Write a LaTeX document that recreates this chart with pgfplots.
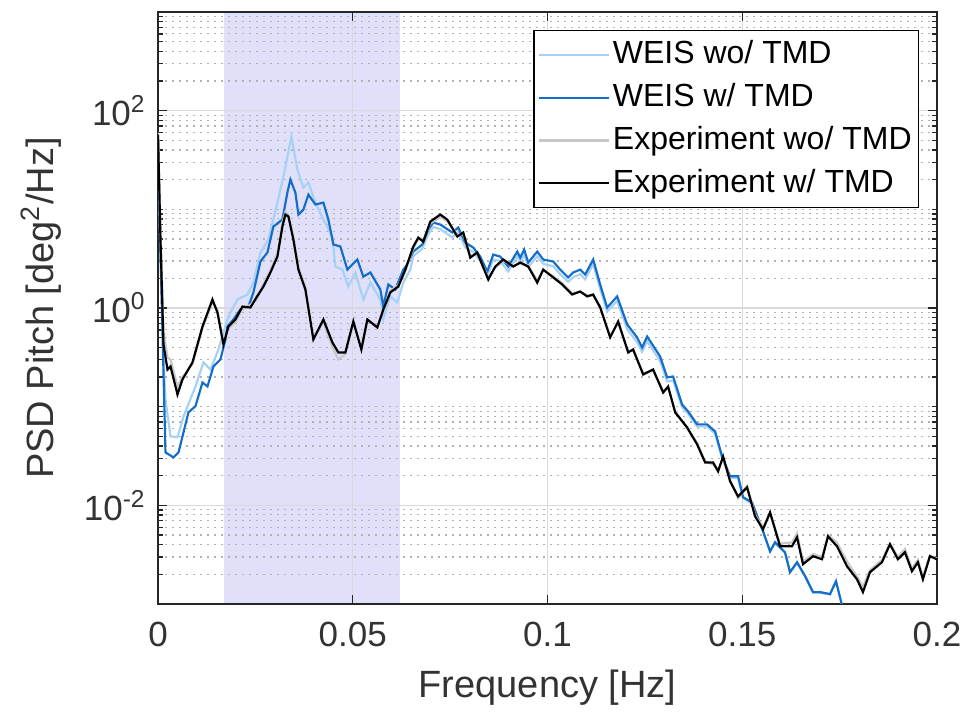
\documentclass[border=0pt]{standalone}
\usepackage{fontspec}
\setmainfont{Liberation Sans}
\usepackage{pgfplots}
\pgfplotsset{compat=1.18}

\definecolor{weislight}{rgb}{0.65,0.82,0.96}
\definecolor{weisdark}{rgb}{0.08,0.43,0.78}
\definecolor{expgray}{rgb}{0.78,0.78,0.78}
\definecolor{band}{rgb}{0.88,0.88,0.985}

\begin{document}
\begin{tikzpicture}
\begin{axis}[
    name=ax,
    set layers=standard,
    scale only axis,
    width=233.7pt, height=177.6pt,
    xmin=0, xmax=0.2,
    ymode=log, ymin=1e-3, ymax=1e3,
    xtick={0,0.05,0.1,0.15,0.2},
    xticklabels={0,0.05,0.1,0.15,0.2},
    scaled x ticks=false,
    ytick={1e-2,1,1e2},
    yticklabels={10\textsuperscript{-2},10\textsuperscript{0},10\textsuperscript{2}},
    minor ytick={2e-3,3e-3,4e-3,5e-3,6e-3,7e-3,8e-3,9e-3,
                 2e-2,3e-2,4e-2,5e-2,6e-2,7e-2,8e-2,9e-2,0.1,
                 0.2,0.3,0.4,0.5,0.6,0.7,0.8,0.9,
                 2,3,4,5,6,7,8,9,10,
                 20,30,40,50,60,70,80,90,
                 200,300,400,500,600,700,800,900},
    tick align=inside,
    major tick length=2.7pt,
    minor tick length=1.6pt,
    tick style={black!85, line width=0.4pt},
    axis line style={black!85, line width=0.5pt},
    ymajorgrids, yminorgrids, xmajorgrids,
    major grid style={black!15, line width=0.35pt},
    minor grid style={black!30, line width=0.35pt, dash pattern=on 0.6pt off 1.5pt},
    ticklabel style={font=\fontsize{10.5}{12}\selectfont, text=black!80},
    xticklabel style={yshift=-2pt},
    label style={font=\fontsize{11.4}{13}\selectfont, text=black!80},
    xlabel={Frequency [Hz]},
    ylabel={PSD Pitch [deg\textsuperscript{2}/Hz]},
    legend style={at={(1,1)}, anchor=north east, xshift=-5.4pt, yshift=-5.4pt,
        font=\fontsize{9.6}{11}\selectfont, draw=black, line width=0.4pt,
        fill=white, inner xsep=1pt, inner ysep=2pt, row sep=2.4pt,
        nodes={inner sep=1pt}},
    legend cell align=left,
    legend image code/.code={\draw[#1] (0pt,0pt) -- (21pt,0pt);},
    every axis plot/.append style={line width=0.65pt},
]
% shaded band
\addplot[draw=none, fill=band, on layer=axis background, forget plot]
    coordinates {(0.01706,1e-3) (0.0622,1e-3) (0.0622,1e3) (0.01706,1e3)};

% WEIS wo/ TMD
\addplot[weislight] coordinates {
(0,50.9) (0.00064,3.10) (0.00141,0.301) (0.00192,0.118) (0.00321,0.0500)
(0.00500,0.0489) (0.00654,0.0796) (0.00962,0.160) (0.01167,0.281) (0.01347,0.238)
(0.01552,0.380) (0.01783,0.765) (0.01860,0.900) (0.02040,1.22) (0.02296,1.37)
(0.02450,1.81) (0.02630,3.65) (0.02835,4.94) (0.03066,11.7) (0.03220,21.5)
(0.03425,54.5) (0.03579,25.3) (0.03733,16.6) (0.03861,18.7) (0.04041,11.7)
(0.04246,7.87) (0.04477,5.30) (0.04554,2.63) (0.04734,2.45) (0.04887,1.65)
(0.05067,2.29) (0.05272,1.22) (0.05452,1.81) (0.05708,1.22) (0.05785,0.765)
(0.05965,1.31) (0.06144,1.14) (0.06298,1.81) (0.06478,2.45) (0.06555,3.35)
(0.06786,4.0) (0.06940,5.6) (0.07068,6.6) (0.07248,6.3) (0.07555,5.2)
(0.07709,5.9) (0.07889,4.1) (0.08094,3.7) (0.08273,3.0) (0.08453,2.1)
(0.08607,3.1) (0.08787,3.0) (0.08992,2.35) (0.09223,3.35) (0.09300,2.9)
(0.09402,3.5) (0.09505,2.6) (0.09736,3.35) (0.09890,2.8) (0.10147,2.65)
(0.10326,2.2) (0.10531,1.85) (0.10659,2.05) (0.10839,2.2) (0.10967,1.95)
(0.11173,2.8) (0.11352,1.55) (0.11532,0.92) (0.11788,1.18) (0.12045,0.61)
(0.12301,0.45) (0.12429,0.36) (0.12558,0.46) (0.12891,0.29) (0.13071,0.18)
(0.13225,0.185) (0.13456,0.098) (0.13610,0.085) (0.13841,0.063) (0.14097,0.063)
(0.14303,0.053) (0.14482,0.030) (0.14688,0.019) (0.14893,0.019) (0.15021,0.0118)
(0.15252,0.0104) (0.15534,0.0054) (0.15714,0.0034) (0.15842,0.0042) (0.16098,0.0033)
(0.16227,0.0021) (0.16406,0.0026) (0.16611,0.0019) (0.16817,0.0013) (0.16996,0.0013)
(0.17253,0.00125) (0.17407,0.0017) (0.17561,0.00097)
};
\addlegendentry{WEIS wo/ TMD}

% WEIS w/ TMD
\addplot[weisdark] coordinates {
(0,50.9) (0.00064,3.91) (0.00141,0.222) (0.00192,0.0344) (0.00398,0.0306)
(0.00526,0.0344) (0.00782,0.0875) (0.00962,0.101) (0.01142,0.176) (0.01270,0.160)
(0.01424,0.256) (0.01603,0.301) (0.01732,0.480) (0.01783,0.650) (0.01937,0.765)
(0.02116,0.966) (0.02322,1.035) (0.02450,1.44) (0.02630,2.96) (0.02809,3.65)
(0.02963,6.69) (0.03194,7.87) (0.03322,14.8) (0.03399,20.0) (0.03527,14.8)
(0.03605,8.85) (0.03733,9.94) (0.03861,14.1) (0.04041,11.2) (0.04246,11.7)
(0.04374,7.87) (0.04503,4.40) (0.04682,4.20) (0.04862,2.45) (0.05118,3.10)
(0.05272,2.08) (0.05452,2.29) (0.05708,1.54) (0.05785,1.035) (0.05914,1.73)
(0.06093,1.54) (0.06298,2.45) (0.06401,2.76) (0.06555,3.73) (0.06786,4.40)
(0.06940,6.24) (0.07068,7.34) (0.07248,7.01) (0.07555,5.82) (0.07709,6.53)
(0.07889,4.60) (0.08094,4.10) (0.08273,3.32) (0.08453,2.34) (0.08607,3.48)
(0.08787,3.32) (0.08992,2.63) (0.09223,3.73) (0.09300,3.24) (0.09402,3.91)
(0.09505,2.89) (0.09736,3.73) (0.09890,3.10) (0.10147,2.96) (0.10326,2.45)
(0.10531,2.04) (0.10659,2.29) (0.10839,2.45) (0.10967,2.18) (0.11173,3.10)
(0.11352,1.73) (0.11532,1.01) (0.11788,1.31) (0.12045,0.681) (0.12301,0.503)
(0.12429,0.398) (0.12558,0.514) (0.12891,0.323) (0.13071,0.198) (0.13225,0.202)
(0.13456,0.105) (0.13610,0.0895) (0.13841,0.0661) (0.14097,0.0661) (0.14303,0.0561)
(0.14482,0.0313) (0.14688,0.0197) (0.14893,0.0197) (0.15021,0.0121) (0.15252,0.0107)
(0.15534,0.00546) (0.15714,0.00342) (0.15842,0.00422) (0.16098,0.00334) (0.16227,0.00210)
(0.16406,0.00265) (0.16611,0.00193) (0.16817,0.00132) (0.16996,0.00132) (0.17253,0.00126)
(0.17407,0.00170) (0.17561,0.00097)
};
\addlegendentry{WEIS w/ TMD}

% Experiment wo/ TMD
\addplot[expgray] coordinates {
(0,60) (0.00064,6.0) (0.00141,0.6) (0.00244,0.315) (0.00321,0.30)
(0.00500,0.16) (0.00629,0.20) (0.00885,0.27) (0.01142,0.62) (0.01398,1.15)
(0.01526,0.95) (0.01680,0.45) (0.01809,0.62) (0.01988,0.72) (0.02168,0.98)
(0.02373,1.08) (0.02527,1.20) (0.02707,1.72) (0.02886,2.4) (0.03066,3.6)
(0.03194,7.2) (0.03271,9.4) (0.03348,8.8) (0.03476,5.2) (0.03605,2.6)
(0.03784,1.6) (0.03989,0.50) (0.04246,0.72) (0.04477,0.40) (0.04631,0.30)
(0.04810,0.34) (0.05015,0.70) (0.05221,0.40) (0.05375,0.74) (0.05631,0.66)
(0.05785,0.93) (0.05965,1.50) (0.06170,1.70) (0.06350,2.35) (0.06555,4.0)
(0.06683,5.0) (0.06811,4.9) (0.06991,7.2) (0.07248,8.3) (0.07427,7.6)
(0.07684,5.5) (0.07838,5.6) (0.08017,3.4) (0.08197,3.5) (0.08479,2.05)
(0.08658,2.55) (0.08864,3.0) (0.09120,2.7) (0.09300,2.8) (0.09505,2.7)
(0.09736,1.9) (0.09890,2.4) (0.10147,2.1) (0.10378,1.78) (0.10634,1.42)
(0.10839,1.45) (0.11019,1.35) (0.11173,1.33) (0.11352,1.05) (0.11609,0.52)
(0.11814,0.70) (0.12071,0.37) (0.12199,0.37) (0.12456,0.22) (0.12712,0.23)
(0.12969,0.145) (0.13097,0.155) (0.13277,0.091) (0.13584,0.060) (0.13841,0.043)
(0.14046,0.028) (0.14251,0.026) (0.14380,0.023) (0.14508,0.030) (0.14688,0.018)
(0.14893,0.0118) (0.15124,0.0158) (0.15329,0.0080) (0.15534,0.0060) (0.15714,0.0082)
(0.15970,0.0041) (0.16278,0.0042) (0.16406,0.0052) (0.16560,0.0027) (0.16817,0.0032)
(0.17048,0.0030) (0.17202,0.0050) (0.17432,0.0042) (0.17689,0.0027) (0.17946,0.0019)
(0.18099,0.0015) (0.18279,0.0022) (0.18587,0.0028) (0.18792,0.0041) (0.18997,0.0030)
(0.19177,0.0036) (0.19356,0.0023) (0.19510,0.0028) (0.19638,0.0019) (0.19818,0.0031)
(0.19997,0.0029)
};
\addlegendentry{Experiment wo/ TMD}

% Experiment w/ TMD
\addplot[black] coordinates {
(0,57.1) (0.00064,4.94) (0.00141,0.427) (0.00244,0.238) (0.00321,0.256)
(0.00500,0.133) (0.00629,0.189) (0.00885,0.281) (0.01142,0.650) (0.01398,1.22)
(0.01526,0.900) (0.01680,0.427) (0.01809,0.650) (0.01988,0.765) (0.02168,1.035)
(0.02373,1.01) (0.02527,1.28) (0.02707,1.65) (0.02886,2.29) (0.03066,3.32)
(0.03194,6.69) (0.03271,8.85) (0.03348,8.45) (0.03476,4.94) (0.03605,2.45)
(0.03784,1.54) (0.03989,0.480) (0.04246,0.765) (0.04477,0.448) (0.04631,0.354)
(0.04810,0.354) (0.05015,0.730) (0.05221,0.380) (0.05375,0.765) (0.05631,0.635)
(0.05785,0.966) (0.05965,1.44) (0.06170,1.65) (0.06350,2.45) (0.06555,4.20)
(0.06683,5.17) (0.06811,4.71) (0.06991,7.52) (0.07248,8.85) (0.07427,7.87)
(0.07684,5.30) (0.07838,5.82) (0.08017,3.24) (0.08197,3.65) (0.08479,1.94)
(0.08658,2.63) (0.08864,3.10) (0.09120,2.63) (0.09300,2.89) (0.09505,2.63)
(0.09736,1.81) (0.09890,2.45) (0.10147,2.04) (0.10378,1.73) (0.10634,1.37)
(0.10839,1.47) (0.11019,1.31) (0.11173,1.37) (0.11352,1.01) (0.11609,0.503)
(0.11814,0.730) (0.12071,0.354) (0.12199,0.380) (0.12456,0.212) (0.12712,0.238)
(0.12969,0.139) (0.13097,0.160) (0.13277,0.0875) (0.13584,0.0617) (0.13841,0.0415)
(0.14046,0.0272) (0.14251,0.0272) (0.14380,0.0221) (0.14508,0.0313) (0.14688,0.0175)
(0.14893,0.0123) (0.15124,0.0152) (0.15329,0.00774) (0.15534,0.00571) (0.15714,0.00849)
(0.15970,0.00385) (0.16278,0.00385) (0.16406,0.00474) (0.16560,0.00253) (0.16817,0.00305)
(0.17048,0.00284) (0.17202,0.00485) (0.17432,0.00385) (0.17689,0.00241) (0.17946,0.00178)
(0.18099,0.00132) (0.18279,0.00210) (0.18587,0.00265) (0.18792,0.00403) (0.18997,0.00284)
(0.19177,0.00334) (0.19356,0.00215) (0.19510,0.00265) (0.19638,0.00178) (0.19818,0.00305)
(0.19997,0.00284)
};
\addlegendentry{Experiment w/ TMD}
\end{axis}
\pgfresetboundingbox
\path[use as bounding box] ([shift={(-47.4pt,-32.4pt)}]ax.south west)
    rectangle ([shift={(10.2pt,3.6pt)}]ax.north east);
\end{tikzpicture}
\end{document}
